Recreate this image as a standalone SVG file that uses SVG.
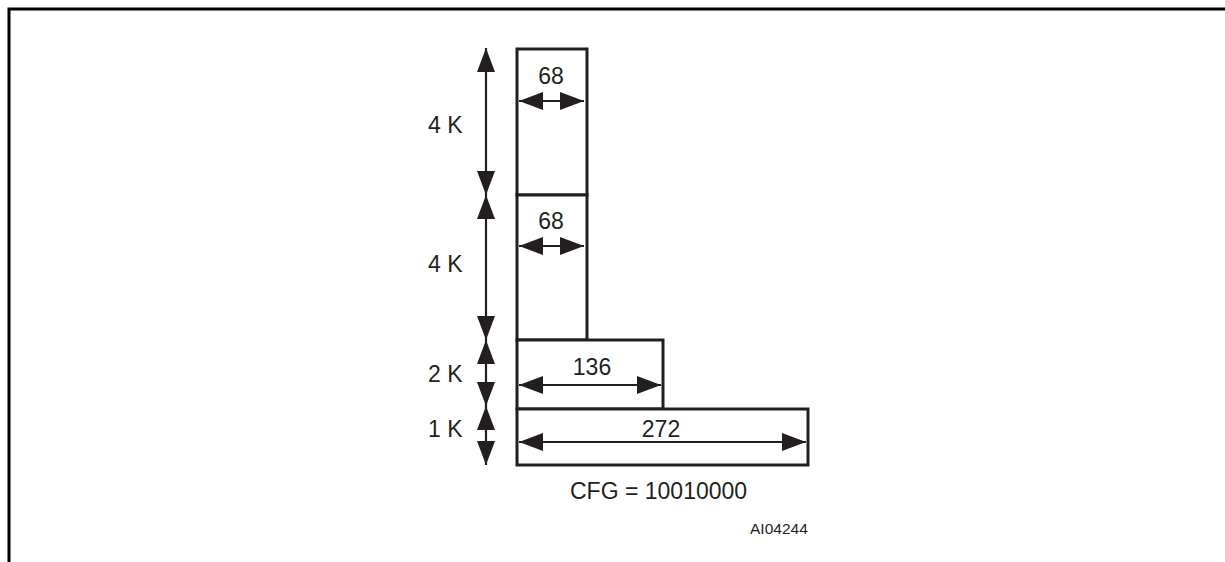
<svg xmlns="http://www.w3.org/2000/svg" width="1225" height="562" viewBox="0 0 1225 562">
<style>
.frame{fill:none;stroke:#000;stroke-width:3}
.box{fill:#fff;stroke:#231f20;stroke-width:3}
.dim{fill:none;stroke:#231f20;stroke-width:2.2;marker-start:url(#ah);marker-end:url(#ah)}
text{font-family:"Liberation Sans",Arial,sans-serif;fill:#231f20}
.lbl{font-size:23px}
.mid{text-anchor:middle}
.small{font-size:15.5px}
</style>
<defs>
<marker id="ah" markerUnits="userSpaceOnUse" markerWidth="24" markerHeight="18" refX="24" refY="9" orient="auto-start-reverse" viewBox="0 0 24 18">
<path d="M0,0 L24,9 L0,18 z" fill="#231f20"/>
</marker>
</defs>
<rect width="1225" height="562" fill="#fff"/>
<path class="frame" d="M9,562 L9,9 L1225,9"/>
<g id="block1">
<rect class="box" x="517" y="49" width="70" height="146"/>
<text class="lbl mid" x="551" y="84">68</text>
</g>
<g id="block2">
<rect class="box" x="517" y="195" width="70" height="145"/>
<text class="lbl mid" x="551" y="229">68</text>
</g>
<g id="block3">
<rect class="box" x="517" y="340" width="146" height="69"/>
<text class="lbl mid" x="592" y="375">136</text>
</g>
<g id="block4">
<rect class="box" x="517" y="409" width="291" height="56"/>
<text class="lbl mid" x="661" y="437">272</text>
</g>
<g id="connectors">
<line class="dim" x1="519" y1="101" x2="584" y2="101"/>
<line class="dim" x1="519" y1="246" x2="584" y2="246"/>
<line class="dim" x1="519" y1="385" x2="661" y2="385"/>
<line class="dim" x1="519" y1="442" x2="806" y2="442"/>
<line class="dim" x1="486" y1="48" x2="486" y2="195"/>
<line class="dim" x1="486" y1="195" x2="486" y2="340"/>
<line class="dim" x1="486" y1="340" x2="486" y2="406"/>
<line class="dim" x1="486" y1="406" x2="486" y2="465"/>
</g>
<g id="labels">
<text class="lbl" x="428" y="133">4 K</text>
<text class="lbl" x="428" y="272">4 K</text>
<text class="lbl" x="428" y="382">2 K</text>
<text class="lbl" x="428" y="437">1 K</text>
<text class="lbl" x="570" y="499">CFG = 10010000</text>
<text class="small" x="750" y="534">AI04244</text>
</g>
</svg>
